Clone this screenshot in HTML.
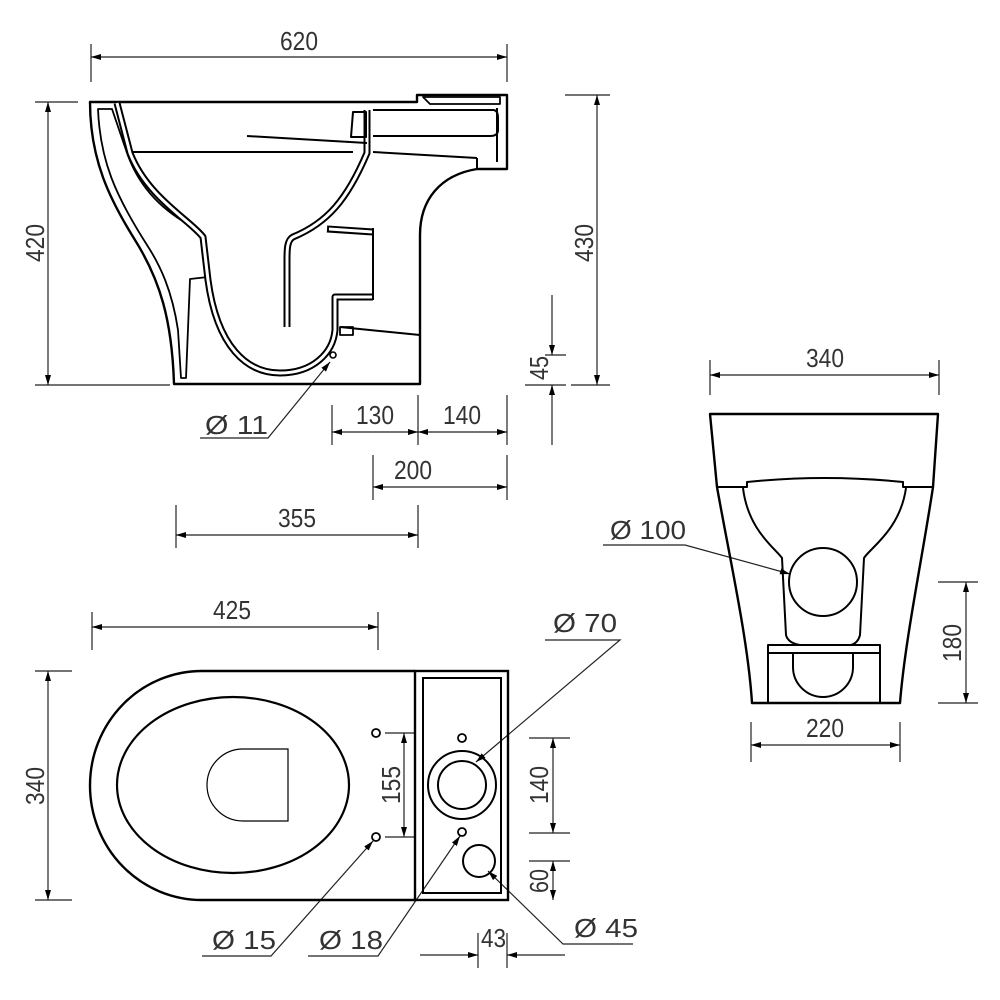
<!DOCTYPE html>
<html><head><meta charset="utf-8"><style>
html,body{margin:0;padding:0;background:#fff;}
svg{display:block}
text{font-family:"Liberation Sans",sans-serif;font-size:26px;fill:#333;}
</style></head><body>
<svg width="1000" height="1000" viewBox="0 0 1000 1000" xmlns="http://www.w3.org/2000/svg">
<defs>
<marker id="a" viewBox="0 0 10 6" refX="10" refY="3" markerWidth="10" markerHeight="6" markerUnits="userSpaceOnUse" orient="auto"><path d="M0,0 L10,3 L0,6 Z" fill="#000"/></marker>
<marker id="b" viewBox="0 0 10 6" refX="0" refY="3" markerWidth="10" markerHeight="6" markerUnits="userSpaceOnUse" orient="auto"><path d="M10,0 L0,3 L10,6 Z" fill="#000"/></marker>
</defs>
<g fill="none" stroke="#222" stroke-width="1.2">
<line x1="91" y1="44" x2="91" y2="82"/><line x1="507" y1="44" x2="507" y2="82"/>
<line x1="91" y1="57" x2="507" y2="57" marker-start="url(#b)" marker-end="url(#a)"/>
<line x1="35" y1="102" x2="78" y2="102"/><line x1="35" y1="385" x2="170" y2="385"/>
<line x1="48" y1="102" x2="48" y2="385" marker-start="url(#b)" marker-end="url(#a)"/>
<line x1="565" y1="95" x2="610" y2="95"/><line x1="571" y1="385" x2="610" y2="385"/>
<line x1="597" y1="95" x2="597" y2="385" marker-start="url(#b)" marker-end="url(#a)"/>
<line x1="545" y1="355" x2="566" y2="355"/><line x1="525" y1="385" x2="566" y2="385"/>
<line x1="552" y1="295" x2="552" y2="355" marker-end="url(#a)"/>
<line x1="552" y1="445" x2="552" y2="385" marker-end="url(#a)"/>
<line x1="332" y1="405" x2="332" y2="445"/><line x1="418" y1="395" x2="418" y2="445"/><line x1="507" y1="395" x2="507" y2="445"/>
<line x1="332" y1="432" x2="418" y2="432" marker-start="url(#b)" marker-end="url(#a)"/>
<line x1="418" y1="432" x2="507" y2="432" marker-start="url(#b)" marker-end="url(#a)"/>
<line x1="373" y1="455" x2="373" y2="500"/><line x1="507" y1="455" x2="507" y2="500"/>
<line x1="373" y1="487" x2="507" y2="487" marker-start="url(#b)" marker-end="url(#a)"/>
<line x1="176" y1="505" x2="176" y2="548"/><line x1="418" y1="505" x2="418" y2="548"/>
<line x1="176" y1="535" x2="418" y2="535" marker-start="url(#b)" marker-end="url(#a)"/>
<polyline points="200,438 268,438 330,362" marker-end="url(#a)"/>

<line x1="710" y1="360" x2="710" y2="395"/><line x1="939" y1="360" x2="939" y2="395"/>
<line x1="710" y1="375" x2="939" y2="375" marker-start="url(#b)" marker-end="url(#a)"/>
<polyline points="603,545 685,545 790,574" marker-end="url(#a)"/>
<line x1="938" y1="582" x2="978" y2="582"/><line x1="938" y1="703" x2="978" y2="703"/>
<line x1="966" y1="582" x2="966" y2="703" marker-start="url(#b)" marker-end="url(#a)"/>
<line x1="751" y1="722" x2="751" y2="762"/><line x1="900" y1="722" x2="900" y2="762"/>
<line x1="751" y1="745" x2="900" y2="745" marker-start="url(#b)" marker-end="url(#a)"/>

<line x1="92" y1="612" x2="92" y2="650"/><line x1="378" y1="612" x2="378" y2="650"/>
<line x1="92" y1="627" x2="378" y2="627" marker-start="url(#b)" marker-end="url(#a)"/>
<line x1="35" y1="671" x2="72" y2="671"/><line x1="35" y1="900" x2="72" y2="900"/>
<line x1="48" y1="671" x2="48" y2="900" marker-start="url(#b)" marker-end="url(#a)"/>
<line x1="385" y1="733" x2="415" y2="733"/><line x1="385" y1="837" x2="415" y2="837"/>
<line x1="404" y1="733" x2="404" y2="837" marker-start="url(#b)" marker-end="url(#a)"/>
<line x1="529" y1="738" x2="570" y2="738"/><line x1="529" y1="833" x2="570" y2="833"/>
<line x1="553" y1="738" x2="553" y2="833" marker-start="url(#b)" marker-end="url(#a)"/>
<line x1="529" y1="861" x2="570" y2="861"/>
<line x1="553" y1="861" x2="553" y2="900" marker-start="url(#b)" marker-end="url(#a)"/>
<line x1="478" y1="933" x2="478" y2="968"/><line x1="507" y1="933" x2="507" y2="968"/>
<line x1="420" y1="955" x2="478" y2="955" marker-end="url(#a)"/>
<line x1="565" y1="955" x2="507" y2="955" marker-end="url(#a)"/>
<polyline points="202,956 271,956 373,841" marker-end="url(#a)"/>
<polyline points="308,956 378,956 460,836" marker-end="url(#a)"/>
<polyline points="545,640 620,640 476,762" marker-end="url(#a)"/>
<polyline points="633,944 563,944 488,871" marker-end="url(#a)"/>
</g>

<g fill="none" stroke="#000" stroke-width="2.4" stroke-linejoin="round">
<path d="M90,102 H417 V95 H507 V169 H477 C440,175 420,200 420,235 V384 H174 C172,320 160,280 135,240 C110,200 90,160 90,102 Z"/>
<path d="M98,109 H112 L127,153 C140,190 165,212 193,227 C203,233 206,243 208,277 L190,279 L186,378 H181 L178,330 C172,290 160,265 147,245 C115,195 100,160 98,109 Z" stroke-width="1.8"/>
<path d="M117,103 L130,153 C147,197 190,220 203,237 L208,280 C217,347 247,373 280,373 C313,373 333,353 335,330 L335,297 L373,297" stroke-width="7"/>
<path d="M117,103 L130,153 C147,197 190,220 203,237 L208,280 C217,347 247,373 280,373 C313,373 333,353 335,330 L335,297 L373,297" stroke="#fff" stroke-width="3"/>
<path d="M367,110 L367,153 C347,200 327,223 293,237 C287,240 287,250 287,260 L287,327" stroke-width="7"/>
<path d="M367,110 L367,153 C347,200 327,223 293,237 C287,240 287,250 287,260 L287,327" stroke="#fff" stroke-width="3"/>
<path d="M327,229 L373,232" stroke-width="7"/><path d="M329,229 L373,232" stroke="#fff" stroke-width="3"/>
<line x1="373" y1="228" x2="373" y2="300" stroke-width="2"/>
<line x1="133" y1="152" x2="353" y2="152" stroke-width="2"/>
<line x1="247" y1="136" x2="367" y2="143" stroke-width="2"/>
<line x1="373" y1="152" x2="477" y2="158" stroke-width="2"/>
<line x1="340" y1="327" x2="420" y2="335" stroke-width="2"/>
<rect x="340" y="327" width="13" height="8" stroke-width="1.8"/>
<circle cx="333" cy="355" r="3" stroke-width="1.6"/>
<path d="M353,112 H366 V137 H351 Z" stroke-width="2"/>
<path d="M373,110 H493 Q498,110 498,118 V130 Q498,136 490,136 H373" stroke-width="2"/>
<path d="M423,97 H500 V104 H430 Z" stroke-width="1.8"/>
<line x1="497" y1="108" x2="497" y2="162" stroke-width="2"/>
<line x1="477" y1="158" x2="477" y2="169" stroke-width="2"/>
</g>

<g fill="none" stroke="#000" stroke-width="2.4" stroke-linejoin="round">
<path d="M710,414 H938 L933,487 C922,560 905,640 900,703 H752 C748,640 730,560 717,487 Z"/>
<path d="M717,487 H747 V482 Q825,474 903,482 V487 H933" stroke-width="2"/>
<path d="M743,488 C748,530 775,548 782,558 L786,635 Q788,643 800,645 H851 Q858,643 860,635 L864,558 C870,548 900,530 906,488" stroke-width="2"/>
<circle cx="823" cy="582" r="34" stroke-width="2"/>
<path d="M768,703 L768,645 H880 L880,703" stroke-width="2"/>
<line x1="768" y1="653" x2="880" y2="653" stroke-width="2"/>
<path d="M793,653 V667 A30,30 0 0 0 853,667 V653" stroke-width="2"/>
</g>

<g fill="none" stroke="#000" stroke-width="2.4">
<path d="M415,671 H202 A112,114.5 0 0 0 202,900 H415"/>
<rect x="415" y="671" width="93" height="229"/>
<rect x="423" y="678" width="78" height="215" stroke-width="2"/>
<ellipse cx="233" cy="785" rx="116" ry="88" stroke-width="2.2"/>
<path d="M288,749 H243 A36,36 0 0 0 243,821 H288 Z" stroke-width="1.2"/>
<circle cx="376" cy="733" r="4" stroke-width="1.8"/>
<circle cx="376" cy="837" r="4" stroke-width="1.8"/>
<circle cx="462" cy="738" r="4" stroke-width="1.8"/>
<circle cx="462" cy="832" r="4" stroke-width="1.8"/>
<circle cx="462" cy="785" r="34" stroke-width="2"/>
<circle cx="462" cy="785" r="24" stroke-width="2"/>
<circle cx="479" cy="861" r="16" stroke-width="2"/>
</g>

<g>
<text x="280" y="50" textLength="38" lengthAdjust="spacingAndGlyphs">620</text>
<text transform="translate(44,262) rotate(-90)" textLength="38" lengthAdjust="spacingAndGlyphs">420</text>
<text transform="translate(593,262) rotate(-90)" textLength="38" lengthAdjust="spacingAndGlyphs">430</text>
<text transform="translate(548,380) rotate(-90)" textLength="24" lengthAdjust="spacingAndGlyphs">45</text>
<text x="205" y="434" textLength="63" lengthAdjust="spacingAndGlyphs">Ø 11</text>
<text x="356" y="424" textLength="38" lengthAdjust="spacingAndGlyphs">130</text>
<text x="443" y="424" textLength="38" lengthAdjust="spacingAndGlyphs">140</text>
<text x="394" y="479" textLength="38" lengthAdjust="spacingAndGlyphs">200</text>
<text x="278" y="527" textLength="38" lengthAdjust="spacingAndGlyphs">355</text>
<text x="806" y="367" textLength="38" lengthAdjust="spacingAndGlyphs">340</text>
<text x="610" y="539" textLength="76" lengthAdjust="spacingAndGlyphs">Ø 100</text>
<text transform="translate(961,662) rotate(-90)" textLength="38" lengthAdjust="spacingAndGlyphs">180</text>
<text x="806" y="737" textLength="38" lengthAdjust="spacingAndGlyphs">220</text>
<text x="213" y="619" textLength="38" lengthAdjust="spacingAndGlyphs">425</text>
<text transform="translate(44,805) rotate(-90)" textLength="38" lengthAdjust="spacingAndGlyphs">340</text>
<text transform="translate(400,804) rotate(-90)" textLength="38" lengthAdjust="spacingAndGlyphs">155</text>
<text transform="translate(548,804) rotate(-90)" textLength="38" lengthAdjust="spacingAndGlyphs">140</text>
<text transform="translate(548,893) rotate(-90)" textLength="24" lengthAdjust="spacingAndGlyphs">60</text>
<text x="553" y="632" textLength="64" lengthAdjust="spacingAndGlyphs">Ø 70</text>
<text x="212" y="949" textLength="64" lengthAdjust="spacingAndGlyphs">Ø 15</text>
<text x="319" y="949" textLength="64" lengthAdjust="spacingAndGlyphs">Ø 18</text>
<text x="574" y="937" textLength="64" lengthAdjust="spacingAndGlyphs">Ø 45</text>
<text x="481" y="947" textLength="25" lengthAdjust="spacingAndGlyphs">43</text>
</g>
</svg>
</body></html>
